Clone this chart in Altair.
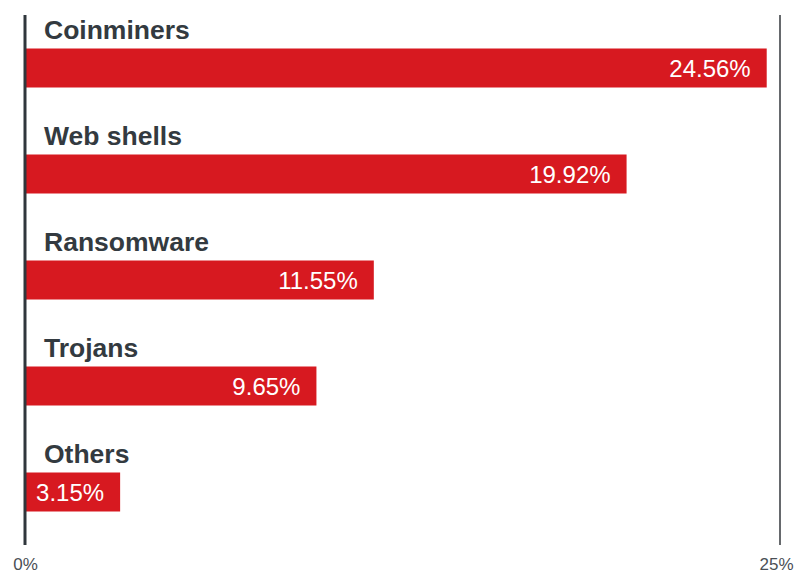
import altair as alt
import pandas as pd

categories = ["Coinminers", "Web shells", "Ransomware", "Trojans", "Others"]
values = [24.56, 19.92, 11.55, 9.65, 3.15]
tick_values = [0, 25]

df = pd.DataFrame({"category": categories, "value": values})
df["label"] = [f"{v:.2f}%" for v in values]
df["zero"] = 0

FONT = "Liberation Sans"
RED = "#d71920"

x_scale = alt.Scale(domain=[0, 25], nice=False, zero=True)
y_scale = alt.Scale(domain=categories, paddingInner=0, paddingOuter=0)

base = alt.Chart(df)

bars = base.mark_bar(color=RED, size=39).encode(
    x=alt.X("value:Q", scale=x_scale,
            axis=alt.Axis(values=tick_values, labelExpr="datum.value + '%'",
                          grid=False, ticks=False, domain=False, title=None,
                          labelFont=FONT, labelFontSize=17, labelColor="#4a4f55",
                          labelBaseline="alphabetic", labelPadding=24,
                          labelAlign=alt.expr("datum.value == 25 ? 'right' : 'center'"),
                          labelOffset=alt.expr("datum.value == 25 ? 13 : 0"),
                          labelFlush=False)),
    y=alt.Y("category:N", scale=y_scale, axis=None, sort=categories),
)

cat_text = base.mark_text(align="left", baseline="alphabetic", dx=19, dy=-29,
                          font=FONT, fontSize=26.5, fontWeight="bold",
                          color="#333a40").encode(
    x=alt.X("zero:Q", scale=x_scale),
    y=alt.Y("category:N", scale=y_scale, sort=categories),
    text="category:N",
)

val_text = base.mark_text(align="right", baseline="alphabetic", dx=-16, dy=9,
                          font=FONT, fontSize=24, color="white").encode(
    x=alt.X("value:Q", scale=x_scale),
    y=alt.Y("category:N", scale=y_scale, sort=categories),
    text="label:N",
)

rule_df = pd.DataFrame({"pos": [0, 25], "kind": ["left", "right"]})
left_rule = alt.Chart(rule_df[rule_df.kind == "left"]).mark_rule(
    color="#30363c", strokeWidth=3).encode(x=alt.X("pos:Q", scale=x_scale))
right_rule = alt.Chart(rule_df[rule_df.kind == "right"]).mark_rule(
    color="#66696d", strokeWidth=2).encode(x=alt.X("pos:Q", scale=x_scale))

chart = alt.layer(right_rule, bars, left_rule, cat_text, val_text).properties(
    width=755, height=530,
    autosize=alt.AutoSizeParams(type="none"),
    padding={"left": 17, "top": 7, "right": 14, "bottom": 29},
).configure_view(stroke=None)

chart.save("out.html", embed_options={"renderer": "svg", "actions": False})
